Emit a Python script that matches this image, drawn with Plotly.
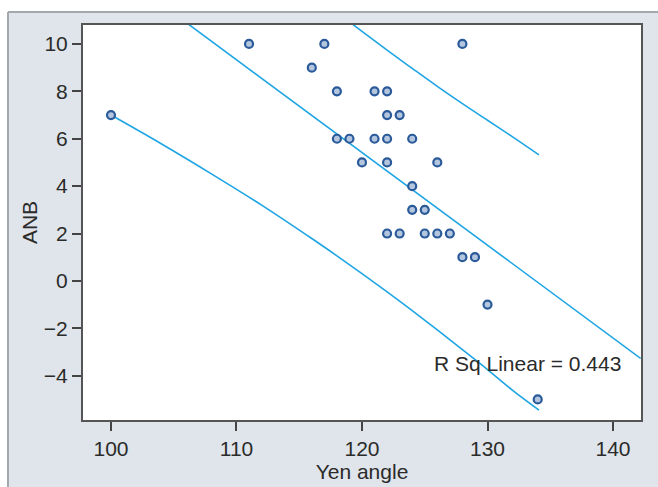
import plotly.graph_objects as go

# Observed data points (Yen angle vs ANB)
yen_angle = [100, 111, 117, 116, 128, 118, 121, 122, 122, 123, 118, 119, 121, 122, 124,
             120, 122, 126, 124, 124, 125, 122, 123, 125, 126, 127, 128, 129, 130, 134]
anb = [7, 10, 10, 9, 10, 8, 8, 8, 7, 7, 6, 6, 6, 6, 6,
       5, 5, 5, 4, 3, 3, 2, 2, 2, 2, 2, 1, 1, -1, -5]

# Linear fit line
fit_x = [97.8, 142.2]
fit_y = [14.11, -3.27]

# Lower prediction bound
lower_x = [100, 104, 108, 112, 116, 118, 120, 122, 124, 126, 128, 130, 132, 134.1]
lower_y = [7.00, 5.79, 4.52, 3.20, 1.79, 1.06, 0.31, -0.46, -1.25, -2.07, -2.90, -3.74, -4.62, -5.45]

# Upper prediction bound
upper_x = [118, 120, 122, 124, 126, 128, 130, 132, 134.1]
upper_y = [11.34, 10.53, 9.74, 8.97, 8.21, 7.48, 6.78, 6.08, 5.32]

r2_label = "R Sq Linear = 0.443"

x_ticks = [100, 110, 120, 130, 140]
y_ticks = [-4, -2, 0, 2, 4, 6, 8, 10]

line_color = "#1ea5e3"
font_family = "Liberation Sans, Arial, sans-serif"
text_color = "#2b2b2b"
fs = 21

fig = go.Figure()

for lx, ly in [(fit_x, fit_y), (lower_x, lower_y), (upper_x, upper_y)]:
    fig.add_trace(go.Scatter(x=lx, y=ly, mode="lines",
                             line=dict(color=line_color, width=1.6, shape="spline"),
                             hoverinfo="skip", showlegend=False))

fig.add_trace(go.Scatter(
    x=yen_angle, y=anb, mode="markers",
    marker=dict(size=8, color="#b4c6de", line=dict(color="#2a5a9a", width=2.2)),
    showlegend=False))

fig.add_annotation(x=125.6, y=-3.5, text=r2_label, showarrow=False,
                   xanchor="left", yanchor="middle",
                   font=dict(family=font_family, size=fs, color=text_color))

# Outer panel border and white surroundings (pixel -> paper conversion)
L, R, T, B = 83, 641, 25, 422
W, H = R - L, B - T
def px(x):
    return (x - L) / W
def py(y):
    return (B - y) / H

shapes = [
    dict(type="rect", xref="paper", yref="paper", x0=px(-10), x1=px(700),
         y0=py(12), y1=py(-10), fillcolor="white", line=dict(width=0), layer="below"),
    dict(type="rect", xref="paper", yref="paper", x0=px(-10), x1=px(8),
         y0=py(500), y1=py(12), fillcolor="white", line=dict(width=0), layer="below"),
    dict(type="line", xref="paper", yref="paper", x0=px(8), x1=px(700),
         y0=py(12), y1=py(12), line=dict(color="#a3a8ad", width=2), layer="below"),
    dict(type="line", xref="paper", yref="paper", x0=px(8), x1=px(8),
         y0=py(12), y1=py(500), line=dict(color="#a3a8ad", width=2), layer="below"),
]

fig.update_layout(
    width=658, height=487,
    margin=dict(l=L, r=658 - R, t=T, b=487 - B),
    paper_bgcolor="#dfe5ea",
    plot_bgcolor="white",
    shapes=shapes,
    font=dict(family=font_family, size=fs, color=text_color),
    xaxis=dict(range=[97.77, 142.23], tickvals=x_ticks, ticks="outside", ticklen=9,
               tickwidth=1.5, tickcolor="#444", showgrid=False, zeroline=False,
               showline=True, linecolor="#555", linewidth=2, mirror=True,
               title=dict(text="Yen angle", standoff=0, font=dict(size=fs)),
               tickfont=dict(size=fs)),
    yaxis=dict(range=[-5.87, 10.8], tickvals=y_ticks, ticks="outside", ticklen=9,
               tickwidth=1.5, tickcolor="#444", showgrid=False, zeroline=False,
               showline=True, linecolor="#555", linewidth=2, mirror=True,
               title=dict(text="ANB", standoff=0, font=dict(size=fs)),
               tickfont=dict(size=fs)),
)

fig.write_html("out.html")
